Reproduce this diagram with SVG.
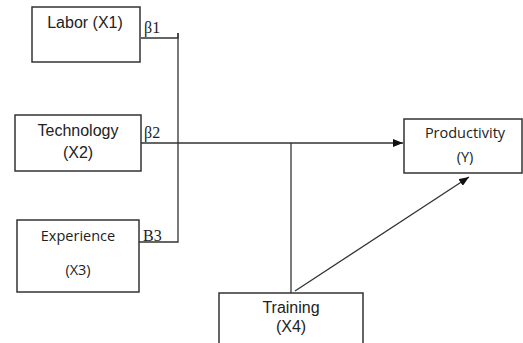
<svg xmlns="http://www.w3.org/2000/svg" width="523" height="343" viewBox="0 0 523 343">
<style>
.box{fill:#fff;stroke:#333;stroke-width:1.5}
.ar{font-family:"Liberation Sans",Arial,sans-serif;font-size:16px;fill:#222;text-anchor:middle}
.ca{font-family:"Open Sans","Liberation Sans",sans-serif;font-size:14.5px;fill:#222;text-anchor:middle}
.tm{font-family:"Liberation Serif","Times New Roman",serif;font-size:16px;fill:#222}
.ln{fill:none;stroke:#333;stroke-width:1.3}
</style>
<defs>
<marker id="ah" viewBox="0 0 10 8" refX="10" refY="4" markerWidth="10" markerHeight="8" markerUnits="userSpaceOnUse" orient="auto">
<path d="M0,0 L10,4 L0,8 Z" fill="#111"/>
</marker>
</defs>
<rect width="523" height="343" fill="#fff"/>
<g id="connectors">
<polyline class="ln" points="141,38 178,38 178,33"/>
<polyline class="ln" points="139,242 178,242 178,33"/>
<line class="ln" x1="141" y1="143" x2="403" y2="143" marker-end="url(#ah)"/>
<line class="ln" x1="291" y1="143" x2="291" y2="293"/>
<line class="ln" x1="295" y1="291" x2="469" y2="177" marker-end="url(#ah)"/>
<text class="tm" x="144" y="33">β1</text>
<text class="tm" x="144" y="138">β2</text>
<text class="tm" x="143" y="241">B3</text>
</g>
<g id="labor">
<rect class="box" x="32" y="7" width="108" height="55"/>
<text class="ar" x="85" y="28">Labor (X1)</text>
</g>
<g id="technology">
<rect class="box" x="15" y="115" width="126" height="56"/>
<text class="ar" x="78" y="136">Technology</text>
<text class="ar" x="78" y="158">(X2)</text>
</g>
<g id="experience">
<rect class="box" x="17" y="220" width="122" height="72"/>
<text class="ca" x="78" y="241">Experience</text>
<text class="ca" x="78" y="275">(X3)</text>
</g>
<g id="productivity">
<rect class="box" x="404" y="119" width="118" height="54"/>
<text class="ca" x="465" y="138">Productivity</text>
<text class="ca" x="465" y="162">(Y)</text>
</g>
<g id="training">
<rect class="box" x="219" y="293" width="144" height="60"/>
<text class="ar" x="291" y="313">Training</text>
<text class="ar" x="291" y="332">(X4)</text>
</g>
</svg>
